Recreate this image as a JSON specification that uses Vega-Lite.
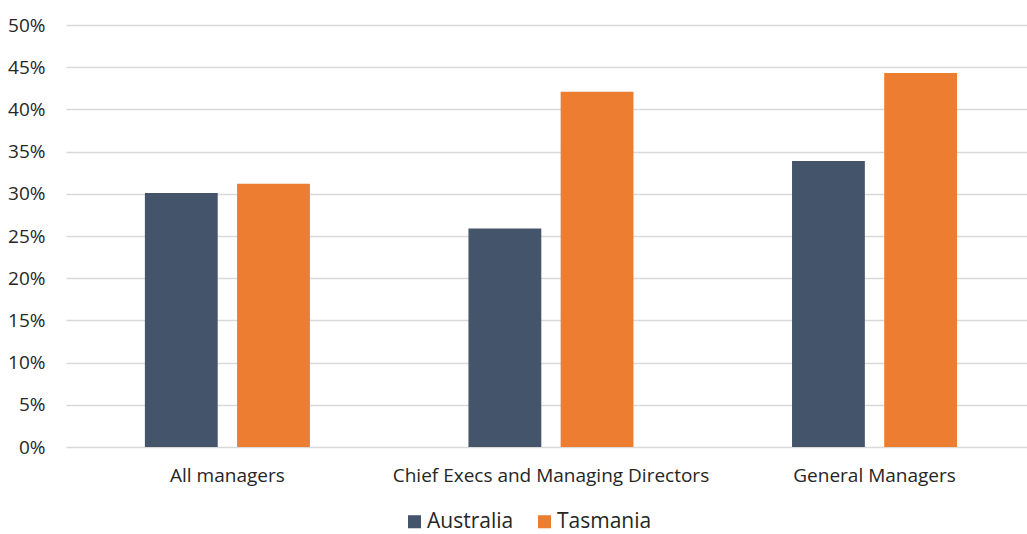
{
  "$schema": "https://vega.github.io/schema/vega-lite/v6.json",
  "width": 961,
  "height": 422,
  "autosize": {"type": "none"},
  "padding": {"left": 66, "top": 25, "right": 0, "bottom": 87},
  "background": "white",
  "config": {
    "view": {"stroke": null},
    "font": "Open Sans",
    "axis": {"labelFont": "Open Sans", "labelColor": "#262626", "labelFontSize": 19, "labelLimit": 0},
    "legend": {"labelFont": "Open Sans", "labelFontSize": 21, "labelColor": "#262626", "labelLimit": 0}
  },
  "data": {
    "values": [
      {"category": "All managers", "region": "Australia", "value": 0.301},
      {"category": "All managers", "region": "Tasmania", "value": 0.312},
      {"category": "Chief Execs and Managing Directors", "region": "Australia", "value": 0.259},
      {"category": "Chief Execs and Managing Directors", "region": "Tasmania", "value": 0.421},
      {"category": "General Managers", "region": "Australia", "value": 0.339},
      {"category": "General Managers", "region": "Tasmania", "value": 0.443}
    ]
  },
  "mark": {"type": "bar"},
  "encoding": {
    "x": {
      "field": "category",
      "type": "nominal",
      "sort": null,
      "title": null,
      "scale": {"paddingInner": 0.49, "paddingOuter": 0.23, "align": 0.53},
      "axis": {"labelAngle": 0, "domain": false, "ticks": false, "labelPadding": 19, "grid": false}
    },
    "xOffset": {
      "field": "region",
      "type": "nominal",
      "scale": {"paddingInner": 0.21, "paddingOuter": 0}
    },
    "y": {
      "field": "value",
      "type": "quantitative",
      "title": null,
      "scale": {"domain": [0, 0.5]},
      "axis": {
        "values": [0, 0.05, 0.1, 0.15, 0.2, 0.25, 0.3, 0.35, 0.4, 0.45, 0.5],
        "format": ".0%",
        "domain": false,
        "ticks": false,
        "labelPadding": 21,
        "gridColor": "#d9d9d9",
        "gridWidth": 1.5
      }
    },
    "color": {
      "field": "region",
      "type": "nominal",
      "title": null,
      "scale": {"domain": ["Australia", "Tasmania"], "range": ["#44546A", "#ED7D31"]},
      "legend": {
        "orient": "none",
        "legendX": 338,
        "legendY": 486,
        "direction": "horizontal",
        "symbolType": "square",
        "symbolSize": 170,
        "symbolStrokeWidth": 0,
        "columnPadding": 20,
        "labelOffset": 2
      }
    }
  }
}
